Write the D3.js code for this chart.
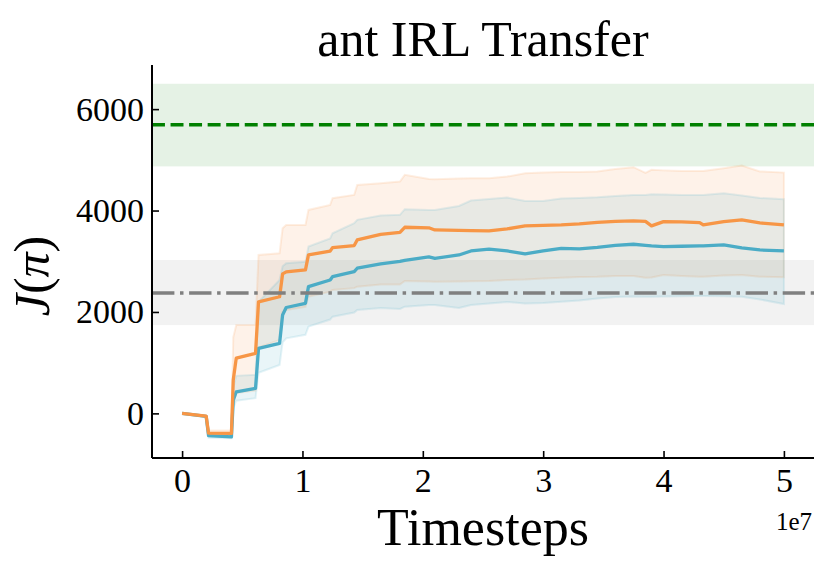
<!DOCTYPE html>
<html>
<head>
<meta charset="utf-8">
<script src="https://cdn.jsdelivr.net/npm/d3@7"></script>
<style>
html,body{margin:0;padding:0;background:#fff;}
svg{display:block;}
</style>
</head>
<body>
<svg id="chart" width="830" height="577"></svg>
<script>
// ---- data ----
const timesteps = [0, 2.0e6, 2.2e6, 4.1e6, 4.25e6, 4.5e6, 6.1e6, 6.35e6, 8.1e6, 8.35e6, 8.65e6, 10.25e6, 10.5e6, 12.3e6, 12.5e6, 14.3e6, 14.55e6, 16.5e6, 18.1e6, 18.5e6, 20.5e6, 21.0e6, 23e6, 24e6, 25.5e6, 27e6, 28.5e6, 30e6, 31.5e6, 33e6, 34.5e6, 36e6, 37.5e6, 38.5e6, 39e6, 40e6, 41.5e6, 43e6, 43.3e6, 45e6, 46.5e6, 48e6, 50e6];

const orangeMean  = [0, -53, -390, -395, 657, 1090, 1185, 2200, 2300, 2750, 2790, 2830, 3125, 3200, 3270, 3310, 3420, 3530, 3570, 3670, 3660, 3617, 3608, 3604, 3598, 3637, 3697, 3706, 3716, 3736, 3765, 3785, 3795, 3785, 3697, 3781, 3775, 3762, 3716, 3781, 3815, 3756, 3716];
const orangeUpper = [0, -53, -340, -340, 1500, 1742, 1742, 3124, 3158, 3650, 3716, 3716, 4012, 4111, 4243, 4309, 4506, 4540, 4572, 4703, 4624, 4618, 4634, 4638, 4638, 4670, 4733, 4752, 4762, 4762, 4768, 4821, 4855, 4743, 4802, 4792, 4782, 4782, 4782, 4835, 4886, 4772, 4748];
const orangeLower = [0, -53, -420, -420, 200, 400, 450, 1300, 1450, 2000, 2040, 2100, 2300, 2400, 2433, 2470, 2499, 2540, 2540, 2611, 2601, 2597, 2601, 2605, 2611, 2631, 2641, 2660, 2676, 2690, 2696, 2710, 2710, 2676, 2680, 2729, 2710, 2696, 2696, 2720, 2729, 2696, 2684];

const blueMean  = [0, -60, -440, -462, 262, 426, 493, 1283, 1382, 1940, 2088, 2171, 2499, 2631, 2696, 2795, 2862, 2946, 2996, 3016, 3085, 3055, 3124, 3203, 3237, 3203, 3144, 3203, 3252, 3243, 3272, 3312, 3335, 3312, 3302, 3288, 3296, 3302, 3302, 3322, 3262, 3223, 3203];
const blueUpper = [0, -60, -420, -420, 500, 740, 760, 2200, 2631, 2900, 2961, 2990, 3290, 3450, 3550, 3750, 3817, 3900, 3915, 4026, 4012, 4012, 4091, 4196, 4229, 4255, 4190, 4190, 4239, 4249, 4263, 4288, 4308, 4308, 4322, 4318, 4308, 4308, 4308, 4342, 4298, 4249, 4223];
const blueLower = [0, -60, -480, -490, 100, 250, 300, 800, 953, 1400, 1480, 1550, 1710, 1850, 1907, 1990, 2039, 2080, 2060, 2104, 2137, 2137, 2078, 2137, 2167, 2197, 2167, 2177, 2203, 2226, 2266, 2295, 2305, 2301, 2301, 2305, 2309, 2315, 2315, 2309, 2301, 2246, 2157];

const expertLevel = 5690, expertBand = [4870, 6500];
const baselineLevel = 2375, baselineBand = [1742, 3024];

const xTicks = [0, 1e7, 2e7, 3e7, 4e7, 5e7];
const xTickLabels = ["0", "1", "2", "3", "4", "5"];
const yTicks = [0, 2000, 4000, 6000];
const yTickLabels = ["0", "2000", "4000", "6000"];

const title = "ant IRL Transfer";
const xLabel = "Timesteps";
const xOffsetLabel = "1e7";

// ---- layout ----
const colOrange = "#f79646", colBlue = "#4bacc6";
const svg = d3.select("#chart");
const pL = 152, pR = 814, pT = 65, pB = 458;
const FONT = "'Liberation Serif', 'DejaVu Serif', serif";

const x = d3.scaleLinear().domain([-2.5e6, 5.25e7]).range([pL, pR]);
const y = d3.scaleLinear().domain([-880, 6870]).range([pB, pT]);

const g = svg.append("g");

// reference bands
g.append("rect").attr("x", pL).attr("width", pR - pL)
  .attr("y", y(expertBand[1])).attr("height", y(expertBand[0]) - y(expertBand[1]))
  .attr("fill", "green").attr("fill-opacity", 0.1);
g.append("rect").attr("x", pL).attr("width", pR - pL)
  .attr("y", y(baselineBand[1])).attr("height", y(baselineBand[0]) - y(baselineBand[1]))
  .attr("fill", "gray").attr("fill-opacity", 0.1);

const area = (lo, hi) => d3.area().x((d, i) => x(timesteps[i])).y0((d, i) => y(lo[i])).y1((d, i) => y(hi[i]))(timesteps);
const line = (v) => d3.line().x((d, i) => x(timesteps[i])).y((d, i) => y(v[i]))(timesteps);

// std bands
g.append("path").attr("d", area(orangeLower, orangeUpper))
  .attr("fill", colOrange).attr("fill-opacity", 0.12)
  .attr("stroke", colOrange).attr("stroke-opacity", 0.15).attr("stroke-width", 2);
g.append("path").attr("d", area(blueLower, blueUpper))
  .attr("fill", colBlue).attr("fill-opacity", 0.12)
  .attr("stroke", colBlue).attr("stroke-opacity", 0.15).attr("stroke-width", 2);

// mean lines
g.append("path").attr("d", line(blueMean)).attr("fill", "none")
  .attr("stroke", colBlue).attr("stroke-width", 3.3).attr("stroke-linejoin", "round");
g.append("path").attr("d", line(orangeMean)).attr("fill", "none")
  .attr("stroke", colOrange).attr("stroke-width", 3.3).attr("stroke-linejoin", "round");

// reference lines
g.append("line").attr("x1", pL).attr("x2", pR).attr("y1", y(expertLevel)).attr("y2", y(expertLevel))
  .attr("stroke", "green").attr("stroke-width", 3.5).attr("stroke-dasharray", "12.95,5.6");
g.append("line").attr("x1", pL).attr("x2", pR).attr("y1", y(baselineLevel)).attr("y2", y(baselineLevel))
  .attr("stroke", "gray").attr("stroke-width", 3.5).attr("stroke-dasharray", "22.4,5.6,3.5,5.6");

// axes
const xAxis = d3.axisBottom(x).tickValues(xTicks).tickFormat((d, i) => xTickLabels[i])
  .tickSizeInner(-7).tickSizeOuter(0).tickPadding(10);
const yAxis = d3.axisLeft(y).tickValues(yTicks).tickFormat((d, i) => yTickLabels[i])
  .tickSizeInner(-7).tickSizeOuter(0).tickPadding(8);

const gx = svg.append("g").attr("transform", `translate(0,${pB})`).call(xAxis);
const gy = svg.append("g").attr("transform", `translate(${pL},0)`).call(yAxis);
gx.select(".domain").attr("d", `M${pL},0H${pR}`);
gy.select(".domain").attr("d", `M0,${pT}V${pB}`);
[gx, gy].forEach(a => {
  a.select(".domain").attr("stroke", "#000").attr("stroke-width", 2);
  a.selectAll(".tick line").attr("stroke", "#000").attr("stroke-width", 1.6);
  a.selectAll(".tick text").attr("fill", "#000").style("font-family", FONT).style("font-size", "34px");
});

// texts
svg.append("text").attr("x", (pL + pR) / 2).attr("y", 56).attr("text-anchor", "middle")
  .style("font-family", FONT).style("font-size", "50px").attr("fill", "#000").text(title);
svg.append("text").attr("x", 483).attr("y", 545).attr("text-anchor", "middle")
  .style("font-family", FONT).style("font-size", "52px").attr("fill", "#000").text(xLabel);
svg.append("text").attr("x", 812).attr("y", 530).attr("text-anchor", "end")
  .style("font-family", FONT).style("font-size", "25px").attr("fill", "#000").text(xOffsetLabel);

const yl = svg.append("text").attr("transform", "translate(49,276) rotate(-90)").attr("text-anchor", "middle")
  .style("font-family", FONT).style("font-size", "50px").attr("fill", "#000");
yl.append("tspan").style("font-style", "italic").text("J");
yl.append("tspan").text("(");
yl.append("tspan").style("font-style", "italic").text("π");
yl.append("tspan").text(")");
</script>
</body>
</html>
